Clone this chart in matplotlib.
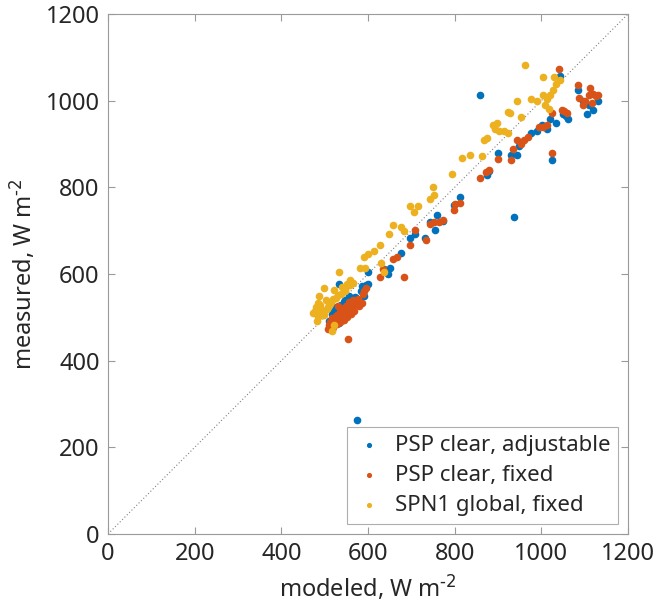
import matplotlib.pyplot as plt

plt.rcParams['font.family'] = ['Noto Sans', 'DejaVu Sans']
plt.rcParams['mathtext.default'] = 'regular'

# PSP clear, adjustable
psp_adj_x = [574, 858, 936, 1024, 1043, 900, 929, 943, 949, 975, 1002, 1014, 1021, 1033, 1062,
             1058, 1084, 1106, 1120, 1130, 1096, 1110, 812, 799, 874, 879, 760, 754, 744, 773,
             731, 708, 696, 675, 650, 646, 636, 600, 600, 586, 573, 561, 547, 534, 526, 520,
             513, 532, 542, 552, 566, 580, 590, 522, 530, 510, 990, 1050, 518, 527, 537, 558,
             570, 584, 595, 545, 555, 528, 540]
psp_adj_y = [263, 1013, 731, 862, 1056, 879, 875, 875, 895, 926, 944, 935, 958, 949, 958,
             965, 1025, 969, 979, 1000, 998, 990, 778, 758, 828, 837, 735, 702, 720, 722,
             682, 693, 682, 648, 614, 601, 611, 604, 577, 572, 545, 545, 541, 577, 523, 487,
             474, 487, 505, 523, 532, 541, 550, 514, 500, 491, 930, 968, 508, 515, 528, 538,
             546, 560, 575, 535, 548, 498, 520]

# PSP clear, fixed
psp_fix_x = [554, 1024, 1041, 1084, 1086, 1096, 1110, 1113, 1120, 1125, 1130, 1047, 1060, 1053,
             1024, 995, 1004, 1014, 970, 960, 952, 943, 935, 929, 900, 879, 872, 858, 801,
             812, 799, 773, 764, 752, 744, 734, 708, 696, 682, 667, 657, 634, 628, 596, 588,
             576, 566, 557, 550, 537, 529, 522, 515, 508, 547, 530, 580, 585, 542, 520, 1100, 1118,
             512, 518, 525, 533, 540, 548, 555, 562, 570, 578, 520, 528, 536, 544, 552, 560,
             568, 510, 516, 590, 545, 535]
psp_fix_y = [451, 879, 1073, 1035, 1005, 990, 1012, 1030, 1015, 1010, 1012, 979, 971, 975,
             971, 940, 940, 944, 917, 908, 901, 908, 889, 864, 866, 841, 835, 821, 761,
             763, 747, 725, 720, 720, 716, 678, 702, 666, 592, 640, 635, 611, 593, 568, 554,
             543, 541, 535, 527, 514, 505, 496, 483, 474, 568, 525, 527, 532, 494, 494, 1000, 995,
             490, 498, 503, 497, 502, 510, 518, 525, 530, 538, 478, 484, 488, 493, 500, 508,
             515, 482, 470, 560, 522, 512]

# SPN1 global, fixed
spn_x = [963, 1004, 1030, 1043, 1033, 1028, 1004, 1021, 1014, 1009, 1018, 990, 975, 943, 953,
         927, 922, 898, 889, 894, 903, 913, 922, 868, 874, 863, 836, 816, 794, 750, 753, 742,
         715, 696, 706, 677, 682, 657, 648, 627, 614, 600, 590, 593, 582, 630, 636, 559, 551,
         532, 522, 498, 488, 484, 479, 493, 507, 515, 527, 538, 546, 498, 484, 482, 518, 522,
         510, 474, 490, 502, 512, 520, 530, 495, 505, 478, 486, 540, 548, 558, 566]
spn_y = [1082, 1055, 1055, 1048, 1039, 1025, 1013, 1012, 1004, 991, 980, 998, 1003, 1000, 962,
         971, 974, 949, 944, 935, 929, 931, 925, 908, 913, 873, 874, 868, 830, 801, 783, 774,
         756, 756, 743, 709, 698, 713, 693, 666, 653, 646, 639, 613, 613, 626, 604, 587, 577,
         604, 563, 568, 550, 532, 523, 517, 523, 536, 545, 554, 563, 505, 500, 491, 469, 483,
         530, 509, 528, 540, 530, 542, 552, 512, 520, 515, 505, 570, 560, 575, 580]

fig = plt.figure(figsize=(6.57, 6.09), dpi=100)
ax = fig.add_axes([0.1644, 0.1232, 0.7915, 0.8539])

ax.plot([0, 1200], [0, 1200], linestyle=(0, (1, 2)), color='#808080', linewidth=0.8, zorder=1)
ax.scatter(psp_adj_x, psp_adj_y, s=20, color='#0072BD', label='PSP clear, adjustable', zorder=2)
ax.scatter(psp_fix_x, psp_fix_y, s=20, color='#D95319', label='PSP clear, fixed', zorder=3)
ax.scatter(spn_x, spn_y, s=20, color='#EDB120', label='SPN1 global, fixed', zorder=4)

ax.set_xlim(0, 1200)
ax.set_ylim(0, 1200)
ax.set_xticks(range(0, 1201, 200))
ax.set_yticks(range(0, 1201, 200))

gray = '#262626'
for sp in ax.spines.values():
    sp.set_color('#9a9a9a')
    sp.set_linewidth(0.8)
ax.tick_params(direction='in', length=5, width=0.8, color='#9a9a9a', labelcolor=gray,
               labelsize=17, top=True, right=True, pad=6)

ax.set_xlabel(r'modeled, W m$^{\text{-2}}$', fontsize=17, color=gray, labelpad=5)
ax.set_ylabel(r'measured, W m$^{\text{-2}}$', fontsize=17, color=gray, labelpad=6)

leg = ax.legend(loc='lower right', fontsize=16, frameon=True, fancybox=False,
                handletextpad=0.5, handlelength=1.3, borderpad=0.35, labelspacing=0.42,
                markerscale=0.6, borderaxespad=0.45)
leg.get_frame().set_edgecolor('#9a9a9a')
leg.get_frame().set_linewidth(0.8)
for t in leg.get_texts():
    t.set_color(gray)

fig.savefig('out.png', dpi=100)
